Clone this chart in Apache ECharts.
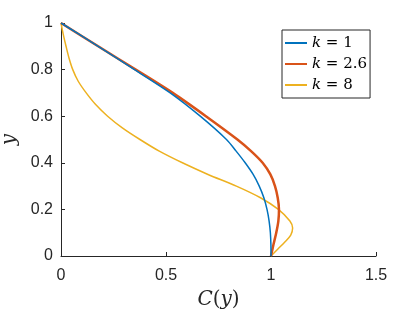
<!DOCTYPE html>
<html>
<head>
<meta charset="utf-8">
<script src="https://cdn.jsdelivr.net/npm/echarts@6/dist/echarts.min.js"></script>
<style>
html,body{margin:0;padding:0;background:#fff;}
#c{width:415px;height:312px;}
</style>
</head>
<body>
<div id="c"></div>
<script>
// k = 1
const blueY = [1, 0.9, 0.8, 0.7, 0.6, 0.5, 0.45, 0.4, 0.35, 0.3, 0.25, 0.2, 0.15, 0.1, 0.05, 0];
const blueC = [0, 0.177, 0.35, 0.52, 0.663, 0.788, 0.834, 0.877, 0.915, 0.944, 0.966, 0.981, 0.991, 0.997, 0.9995, 1];
// k = 2.6
const redY = [1, 0.9, 0.8, 0.7, 0.6, 0.5, 0.45, 0.4, 0.35, 0.3, 0.25, 0.2, 0.15, 0.1, 0.05, 0];
const redC = [0, 0.177, 0.356, 0.532, 0.69, 0.84, 0.905, 0.96, 0.997, 1.019, 1.032, 1.038, 1.035, 1.025, 1.012, 1];
// k = 8
const yelY = [1, 0.95, 0.9, 0.85, 0.8, 0.75, 0.7, 0.65, 0.6, 0.55, 0.5, 0.45, 0.4, 0.35, 0.3, 0.25, 0.2, 0.15, 0.12, 0.09, 0.06, 0.03, 0];
const yelC = [0, 0.011, 0.024, 0.038, 0.056, 0.082, 0.12, 0.165, 0.222, 0.292, 0.376, 0.468, 0.578, 0.7, 0.835, 0.95, 1.035, 1.09, 1.103, 1.094, 1.066, 1.033, 1];

const seriesNames = ['k=1', 'k=2.6', 'k=8'];
const legendValues = ['1', '2.6', '8'];
const xTicks = [0, 0.5, 1, 1.5];
const yTicks = [0, 0.2, 0.4, 0.6, 0.8, 1];

function pairs(cs, ys) { return cs.map((c, i) => [c, ys[i]]); }

const axisColor = '#262626';
const SANS = 'Liberation Sans';
const SERIF = 'DejaVu Serif';
const chart = echarts.init(document.getElementById('c'), null, {renderer: 'canvas'});
chart.setOption({
  animation: false,
  textStyle: {fontFamily: SANS},
  grid: {left: 61, right: 39, top: 23, bottom: 56, outerBoundsMode: 'none', containLabel: false},
  xAxis: {
    type: 'value', min: xTicks[0], max: xTicks[xTicks.length - 1], interval: 0.5,
    axisLine: {show: true, onZero: false, lineStyle: {color: axisColor, width: 1}},
    axisTick: {show: true, inside: true, length: 4, lineStyle: {color: axisColor}},
    splitLine: {show: false},
    axisLabel: {color: axisColor, fontFamily: SANS, fontSize: 16, margin: 12},
    name: '{i|C}{n|(}{i|y}{n|)}',
    nameLocation: 'middle', nameGap: 34,
    nameTextStyle: {
      fontFamily: SERIF,
      rich: {
        i: {fontFamily: SERIF, fontStyle: 'italic', fontSize: 20, color: '#262626'},
        n: {fontFamily: SERIF, fontSize: 20, color: '#262626'}
      }
    }
  },
  yAxis: {
    type: 'value', min: yTicks[0], max: yTicks[yTicks.length - 1], interval: 0.2,
    axisLine: {show: true, onZero: false, lineStyle: {color: axisColor, width: 1}},
    axisTick: {show: true, inside: true, length: 4, lineStyle: {color: axisColor}},
    splitLine: {show: false},
    axisLabel: {color: axisColor, fontFamily: SANS, fontSize: 16, margin: 8},
    name: 'y', nameLocation: 'middle', nameGap: 36, nameRotate: 90,
    nameTextStyle: {fontFamily: SERIF, fontStyle: 'italic', fontSize: 20, color: '#262626'}
  },
  legend: {
    left: 282, top: 30, orient: 'vertical',
    backgroundColor: '#fff', borderColor: '#262626', borderWidth: 1,
    padding: [4, 3, 4, 3], itemGap: 3, itemWidth: 22, itemHeight: 2, itemTextGap: 2,
    icon: 'rect',
    data: seriesNames,
    formatter: function (name) {
      const v = legendValues[seriesNames.indexOf(name)];
      return '{i|k}{n| = ' + v + '}';
    },
    textStyle: {
      fontFamily: SERIF,
      lineHeight: 18,
      rich: {
        i: {fontFamily: SERIF, fontStyle: 'italic', fontSize: 15, color: '#000', lineHeight: 18},
        n: {fontFamily: SERIF, fontSize: 15, color: '#000', lineHeight: 18}
      }
    }
  },
  series: [
    {name: seriesNames[0], type: 'line', data: pairs(blueC, blueY), symbol: 'none', smooth: 0.3,
     lineStyle: {color: '#0072BD', width: 1.5}, itemStyle: {color: '#0072BD'}, z: 3},
    {name: seriesNames[1], type: 'line', data: pairs(redC, redY), symbol: 'none', smooth: 0.3,
     lineStyle: {color: '#D95319', width: 2.5}, itemStyle: {color: '#D95319'}, z: 2},
    {name: seriesNames[2], type: 'line', data: pairs(yelC, yelY), symbol: 'none', smooth: 0.3,
     lineStyle: {color: '#EDB120', width: 1.5}, itemStyle: {color: '#EDB120'}, z: 1}
  ]
});
</script>
</body>
</html>
